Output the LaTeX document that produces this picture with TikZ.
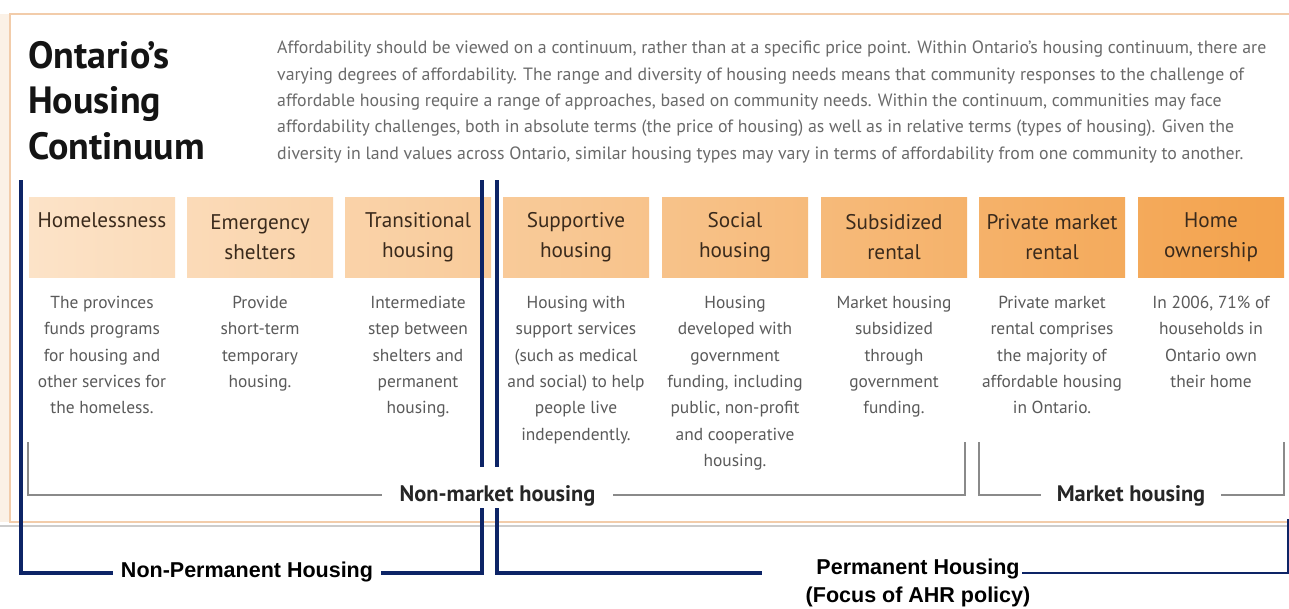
\documentclass[tikz,border=0pt]{standalone}
\usepackage{fontspec}
\setmainfont{PT Sans}
\newfontfamily\arialfont{Liberation Sans}
\definecolor{navy}{HTML}{0D2466}
\definecolor{frameC}{HTML}{F2CCAA}
\definecolor{boxL}{HTML}{FCE3C8}
\definecolor{boxR}{HTML}{F3A24C}
\definecolor{hdtext}{HTML}{3A2A1C}
\definecolor{desctext}{HTML}{5A5A5A}
\definecolor{paratext}{HTML}{6A6A6A}
\definecolor{brk}{HTML}{8A8A8A}
\definecolor{stripC}{HTML}{FBF1E6}
\tikzset{
  hbox/.style={minimum width=146, minimum height=80, inner sep=0, align=center,
    text=hdtext, font=\fontsize{21.2}{30}\selectfont},
  desc/.style={anchor=north, inner sep=0, align=center, text=desctext,
    font=\fontsize{17.4}{26.3}\selectfont},
  brkline/.style={draw=brk, line width=2},
  brklab/.style={fill=white, inner ysep=0, anchor=base, text height=34, text depth=7,
    text=black!85, font=\bfseries\fontsize{22.4}{24}\selectfont},
  navyline/.style={draw=navy, line width=4},
  navylab/.style={fill=white, inner ysep=2, inner xsep=8, text=black,
    font=\arialfont\bfseries\fontsize{21.5}{28}\selectfont}
}
\begin{document}
\begin{tikzpicture}[x=1pt,y=-1pt]
\useasboundingbox[fill=white] (0,0) rectangle (1289,608);
\clip (0,0) rectangle (1289,608);
% frame
\fill[stripC] (0,14) rectangle (9,522);
\draw[black!20, line width=1.5] (0,526) -- (1289,526);
\draw[frameC, line width=2.5] (1300,14) -- (10,14) -- (10,522) -- (1300,522);
% title and paragraph
\node[anchor=north west, inner sep=0, align=left, text=black!92,
  font=\bfseries\fontsize{38}{45.5}\selectfont] (title) at (28,41)
  {Ontario’s\\Housing\\Continuum};
\node[anchor=north west, inner sep=0, align=left, text=paratext,
  font=\fontsize{17.8}{26.3}\selectfont] (para) at (277,41)
  {Affordability should be viewed on a continuum, rather than at a specific price point. Within Ontario’s housing continuum, there are\\
   varying degrees of affordability. The range and diversity of housing needs means that community responses to the challenge of\\
   affordable housing require a range of approaches, based on community needs. Within the continuum, communities may face\\
   affordability challenges, both in absolute terms (the price of housing) as well as in relative terms (types of housing). Given the\\
   diversity in land values across Ontario, similar housing types may vary in terms of affordability from one community to another.};
% header boxes
\node[hbox, left color=boxR!0!boxL, right color=boxR!12!boxL] (b1) at (102,237) {Homelessness\\\phantom{g}};
\node[hbox, left color=boxR!13!boxL, right color=boxR!24!boxL] (b2) at (260,237) {Emergency\\shelters};
\node[hbox, left color=boxR!25!boxL, right color=boxR!37!boxL] (b3) at (418,237) {Transitional\\housing};
\node[hbox, left color=boxR!38!boxL, right color=boxR!49!boxL] (b4) at (576,237) {Supportive\\housing};
\node[hbox, left color=boxR!50!boxL, right color=boxR!62!boxL] (b5) at (735,237) {Social\\housing};
\node[hbox, left color=boxR!63!boxL, right color=boxR!75!boxL] (b6) at (894,237) {Subsidized\\rental};
\node[hbox, left color=boxR!76!boxL, right color=boxR!87!boxL] (b7) at (1052,237) {Private market\\rental};
\node[hbox, left color=boxR!88!boxL, right color=boxR!100!boxL] (b8) at (1211,237) {Home\\ownership};
% descriptions
\node[desc] (d1) at (102,296) {The provinces\\funds programs\\for housing and\\other services for\\the homeless.};
\node[desc] (d2) at (260,296) {Provide\\short-term\\temporary\\housing.};
\node[desc] (d3) at (418,296) {Intermediate\\step between\\shelters and\\permanent\\housing.};
\node[desc] (d4) at (576,296) {Housing with\\support services\\(such as medical\\and social) to help\\people live\\independently.};
\node[desc] (d5) at (735,296) {Housing\\developed with\\government\\funding, including\\public, non-profit\\and cooperative\\housing.};
\node[desc] (d6) at (894,296) {Market housing\\subsidized\\through\\government\\funding.};
\node[desc] (d7) at (1052,296) {Private market\\rental comprises\\the majority of\\affordable housing\\in Ontario.};
\node[desc] (d8) at (1211,296) {In 2006, 71\% of\\households in\\Ontario own\\their home};
% gray brackets
\coordinate (nmA) at (28,442);
\coordinate (nmB) at (965,442);
\coordinate (mA) at (979,442);
\coordinate (mB) at (1284,442);
\draw[brkline] (nmA) |- (nmB |- 0,495) -- (nmB);
\draw[brkline] (mA) |- (mB |- 0,495) -- (mB);
% navy brackets
\coordinate (npA) at (21,180);
\coordinate (npB) at (482,180);
\coordinate (pA) at (497,180);
\coordinate (pL) at (762,573);
\coordinate (pR) at (1022,573);
\coordinate (pC) at (1288,573);
\coordinate (pTop) at (1288,519);
\draw[navyline] (npA) |- (npB |- 0,573) -- (npB);
\draw[navyline] (pA) |- (pL);
\draw[navy, line width=2.5] (pR) -- (pC) -- (pTop);
% labels over lines
\node[brklab, inner xsep=18] (nmlab) at (497.5,501) {Non-market housing};
\node[brklab, inner xsep=16] (mlab) at (1131,501) {Market housing};
\node[navylab] (nplab) at (247,572) {Non-Permanent Housing};
\node[navylab, fill=none, align=center] (plab) at (918,583) {Permanent Housing\\(Focus of AHR policy)};
\end{tikzpicture}
\end{document}
